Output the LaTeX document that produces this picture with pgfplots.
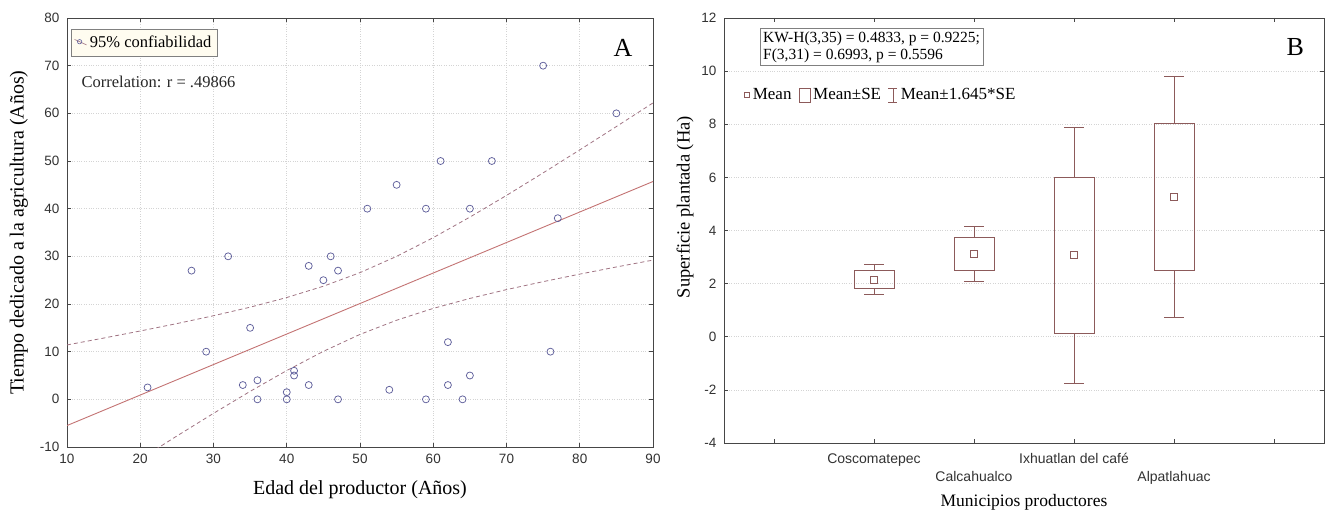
\documentclass[border=0pt]{standalone}
\usepackage{fontspec}
\setmainfont{Liberation Serif}
\newfontfamily\arial{Liberation Sans}
\usepackage{pgfplots}
\pgfplotsset{compat=1.18}
\usepgfplotslibrary{statistics}

\definecolor{axc}{RGB}{70,70,70}
\definecolor{gridc}{RGB}{212,212,212}
\definecolor{ptc}{RGB}{95,95,155}
\definecolor{linec}{RGB}{195,115,115}
\definecolor{bandc}{RGB}{160,115,130}
\definecolor{boxc}{RGB}{140,90,90}
\definecolor{legfill}{RGB}{255,252,240}
\definecolor{tickc}{RGB}{50,50,50}

\pgfplotsset{
  myax/.style={
    scale only axis,
    anchor=south west,
    xtick pos=both, ytick pos=both,
    tick align=inside,
    major tick length=4pt,
    every tick/.style={axc, line width=0.6pt},
    axis line style={axc, line width=0.8pt},
    /pgf/number format/assume math mode=true,
    tick label style={font=\arial\fontsize{13.5}{16}\selectfont, color=tickc},
    xticklabel shift=4pt,
    yticklabel shift=4pt,
    grid style={dotted, gridc, line width=0.7pt},
  }
}

\begin{document}
\begin{tikzpicture}
\path[use as bounding box] (0,0) rectangle (1325pt,512pt);

% ---------------- Panel A ----------------
\begin{axis}[myax,
  at={(67pt,65pt)}, width=586pt, height=429pt,
  xmin=10, xmax=90, ymin=-10, ymax=80,
  xtick={10,20,...,90}, ytick={-10,0,...,80},
  grid=major,
  xlabel={Edad del productor (Años)},
  ylabel={Tiempo dedicado a la agricultura (Años)},
  every axis x label/.style={at={(axis description cs:0.5,0)}, anchor=center, yshift=-43pt, font=\fontsize{20}{22}\selectfont},
  every axis y label/.style={at={(axis description cs:-0.082,0.5)}, anchor=center, rotate=90, font=\fontsize{20}{22}\selectfont},
  legend style={at={(axis description cs:0.007,0.974)}, anchor=north west, fill=legfill, draw=gray, font=\fontsize{16.5}{18}\selectfont, inner xsep=3pt, inner ysep=5pt, nodes={inner xsep=3pt}},
  legend cell align=left,
]
\addlegendimage{legend image code/.code={\draw[bandc, line width=0.6pt] (3pt,3.5pt)--(15pt,-2pt); \draw[ptc, line width=0.6pt] (8pt,1.2pt) circle (2.2pt);}}
\addlegendentry{95\% confiabilidad}

\addplot[bandc, line width=0.8pt, dash pattern=on 4pt off 3pt, forget plot] coordinates {
(10,11.41) (15,12.85) (20,14.34) (25,15.89) (30,17.54) (35,19.33) (40,21.36) (45,23.73)
(50,26.58) (55,30.0) (60,33.92) (65,38.23) (70,42.78) (75,47.51) (80,52.33) (85,57.23) (90,62.19)};
\addplot[bandc, line width=0.8pt, dash pattern=on 4pt off 3pt, forget plot] coordinates {
(10,-22.41) (15,-17.45) (20,-12.54) (25,-7.69) (30,-2.94) (35,1.67) (40,6.04) (45,10.07)
(50,13.62) (55,16.6) (60,19.08) (65,21.17) (70,23.02) (75,24.69) (80,26.27) (85,27.77) (90,29.21)};
\addplot[linec, line width=0.9pt, forget plot] coordinates {(10,-5.5) (90,45.7)};

\addplot[only marks, mark=o, mark size=3.5pt, ptc, line width=0.75pt, forget plot] coordinates {
(21,2.5) (27,27) (29,10) (32,30) (34,3) (35,15) (36,4) (36,0) (40,1.5) (40,0)
(41,6) (41,5) (43,28) (43,3) (45,25) (46,30) (47,27) (47,0) (51,40) (54,2)
(55,45) (59,40) (59,0) (61,50) (62,12) (62,3) (64,0) (65,40) (65,5) (68,50)
(75,70) (76,10) (77,38) (85,60)};

\node[anchor=west, font=\fontsize{16.5}{18}\selectfont, color=black!85] at (axis description cs:0.019,0.852) {Correlation: r = .49866};
\node[font=\fontsize{26}{26}\selectfont] at (axis description cs:0.949,0.93) {A};
\end{axis}

% ---------------- Panel B ----------------
\begin{axis}[myax,
  at={(724pt,69pt)}, width=600pt, height=425pt,
  xmin=0.5, xmax=6.5, ymin=-4, ymax=12,
  xtick={1,2,3,4,5,6}, ytick={-4,-2,...,12},
  xticklabels={{},{\strut Coscomatepec},{\strut\\Calcahualco},{\strut Ixhuatlan del café},{\strut\\Alpatlahuac},{}},
  xticklabel style={align=center, font=\arial\fontsize{14}{18}\selectfont},
  ymajorgrids,
  xlabel={Municipios productores},
  ylabel={Superficie plantada (Ha)},
  every axis x label/.style={at={(axis description cs:0.5,0)}, anchor=center, yshift=-59pt, font=\fontsize{17.5}{20}\selectfont},
  every axis y label/.style={at={(axis description cs:-0.065,0.555)}, anchor=center, rotate=90, font=\fontsize{18.5}{20}\selectfont},
  legend style={at={(axis description cs:0.028,0.819)}, anchor=west, draw=none, fill=none, font=\fontsize{17}{18}\selectfont, nodes={inner xsep=3pt}, /tikz/every even column/.append style={column sep=4pt}},
  legend columns=3,
  boxplot/draw direction=y,
]
\addlegendimage{legend image code/.code={\draw[boxc, line width=0.6pt] (-2.6pt,-2.6pt) rectangle (2.6pt,2.6pt);}}
\addlegendentry{Mean}
\addlegendimage{legend image code/.code={\draw[boxc, line width=0.7pt] (0pt,-7pt) rectangle (11pt,7pt);}}
\addlegendentry{Mean±SE}
\addlegendimage{legend image code/.code={\draw[boxc, line width=0.7pt] (4.5pt,-7pt) -- (4.5pt,7pt) (0pt,7pt) -- (9pt,7pt) (0pt,-7pt) -- (9pt,-7pt);}}
\addlegendentry{Mean±1.645*SE}

\addplot[boxc, line width=0.8pt, forget plot, boxplot prepared={draw direction=y, draw position=2,
  lower whisker=1.60, lower quartile=1.81, median=2.16, upper quartile=2.51, upper whisker=2.73,
  box extend=0.4, whisker extend=0.2, every median/.style={draw=none}}] coordinates {};
\addplot[boxc, line width=0.8pt, forget plot, boxplot prepared={draw direction=y, draw position=3,
  lower whisker=2.07, lower quartile=2.49, median=3.12, upper quartile=3.75, upper whisker=4.14,
  box extend=0.4, whisker extend=0.2, every median/.style={draw=none}}] coordinates {};
\addplot[boxc, line width=0.8pt, forget plot, boxplot prepared={draw direction=y, draw position=4,
  lower whisker=-1.74, lower quartile=0.14, median=3.07, upper quartile=6.00, upper whisker=7.90,
  box extend=0.4, whisker extend=0.2, every median/.style={draw=none}}] coordinates {};
\addplot[boxc, line width=0.8pt, forget plot, boxplot prepared={draw direction=y, draw position=5,
  lower whisker=0.73, lower quartile=2.51, median=5.27, upper quartile=8.03, upper whisker=9.82,
  box extend=0.4, whisker extend=0.2, every median/.style={draw=none}}] coordinates {};

\addplot[only marks, mark=square, mark size=3.5pt, boxc, line width=0.7pt, forget plot] coordinates {
(2,2.16) (3,3.12) (4,3.07) (5,5.27)};

\node[anchor=north west, draw=gray, fill=white, align=left, inner xsep=3pt, inner ysep=3pt,
  font=\fontsize{15.5}{17}\selectfont] at (axis description cs:0.06,0.976)
  {KW-H(3,35) = 0.4833, p = 0.9225;\\F(3,31) = 0.6993, p = 0.5596};
\node[font=\fontsize{26}{26}\selectfont] at (axis description cs:0.952,0.932) {B};
\end{axis}
\end{tikzpicture}
\end{document}
